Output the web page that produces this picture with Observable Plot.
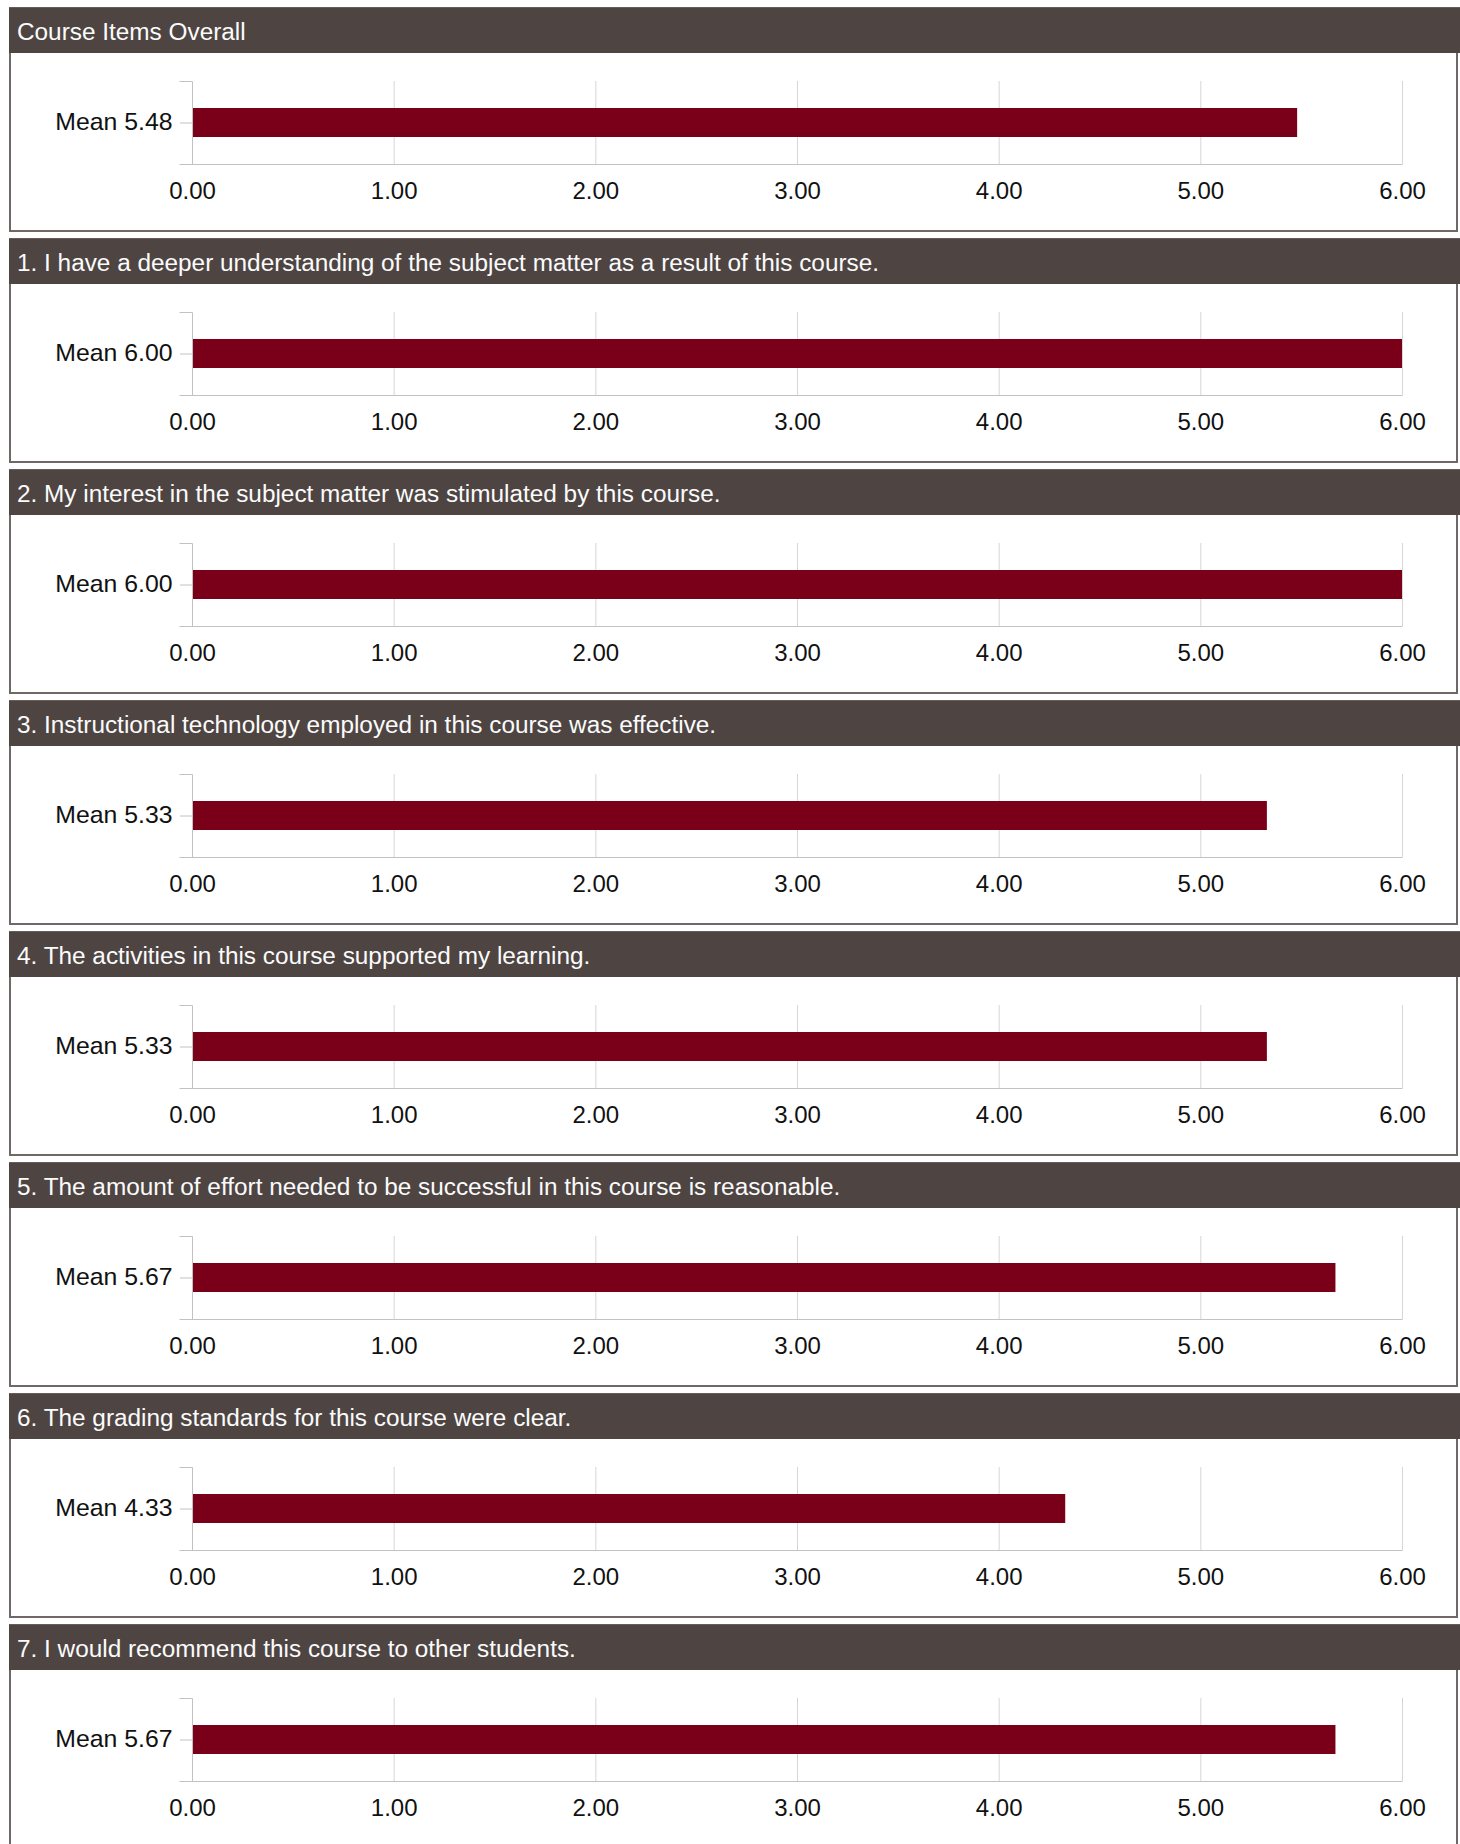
<!DOCTYPE html>
<html>
<head>
<meta charset="utf-8">
<script src="https://cdn.jsdelivr.net/npm/d3@7"></script>
<script src="https://cdn.jsdelivr.net/npm/@observablehq/plot@0.6"></script>
<style>
  html, body { margin: 0; padding: 0; background: #fff; }
  body { font-family: "Liberation Sans", Arial, Helvetica, sans-serif; }
  #root { position: relative; width: 1460px; height: 1844px; overflow: hidden; }
  .panel { position: absolute; left: 0; width: 1460px; height: 226px; }
  .head {
    position: absolute; left: 9px; top: 0; width: 1451px; height: 46px;
    background: #4e4543; color: #fbfbfb; font-size: 24.35px;
    box-sizing: border-box; padding: 2px 0 0 8px; line-height: 43px;
    white-space: nowrap; overflow: hidden; border-top: 1px solid #655d5b;
  }
  .box {
    position: absolute; left: 9px; top: 46px; width: 1449px; height: 179px;
    box-sizing: border-box; border: 2px solid #6e6866; border-top: none;
    z-index: 2; pointer-events: none;
  }
  .chart { position: absolute; left: 0; top: 46px; z-index: 1; }
  .chart svg { display: block; }
</style>
</head>
<body>
<div id="root"></div>
<script>
// ---- data ----
const titles = [
  "Course Items Overall",
  "1. I have a deeper understanding of the subject matter as a result of this course.",
  "2. My interest in the subject matter was stimulated by this course.",
  "3. Instructional technology employed in this course was effective.",
  "4. The activities in this course supported my learning.",
  "5. The amount of effort needed to be successful in this course is reasonable.",
  "6. The grading standards for this course were clear.",
  "7. I would recommend this course to other students."
];
const means = [5.48, 6.00, 6.00, 5.33, 5.33, 5.67, 4.33, 5.67];
const xTicks = [0, 1, 2, 3, 4, 5, 6];

// ---- style ----
const barColor = "#7a001a";
const gridColor = "#d6d6d6";
const axisColor = "#c2c2c2";
const panelPitch = 231;
const firstTop = 7;

const fmt = d => d.toFixed(2);

// axis bracket (y-axis line with end ticks, and x baseline)
function bracket(index, scales, values, dimensions) {
  const {width, height, marginLeft, marginRight, marginTop, marginBottom} = dimensions;
  const x0 = Math.round(scales.x(0)) + 0.5;
  const yT = marginTop + 0.5, yB = height - marginBottom + 0.5;
  const xR = Math.round(scales.x(6)) + 0.5;
  const g = d3.create("svg:g").attr("fill", "none").attr("stroke", axisColor);
  g.append("path").attr("d", `M${x0 - 13},${yT}H${x0}V${yB}`);
  g.append("path").attr("d", `M${x0 - 13},${yB}H${xR}`);
  return g.node();
}

const root = document.getElementById("root");

titles.forEach((title, i) => {
  const panel = document.createElement("div");
  panel.className = "panel";
  panel.style.top = (firstTop + panelPitch * i) + "px";

  const head = document.createElement("div");
  head.className = "head";
  head.textContent = title;
  panel.appendChild(head);

  const row = {label: "Mean " + fmt(means[i]), value: means[i]};

  const chart = Plot.plot({
    width: 1460,
    height: 176,
    marginLeft: 192,
    marginRight: 58,
    marginTop: 28,
    marginBottom: 65,
    style: {background: "transparent", fontFamily: '"Liberation Sans", Arial, sans-serif', fontSize: "24px", color: "#000"},
    x: {domain: [0, 6], label: null},
    y: {domain: [row.label], label: null, padding: 0},
    marks: [
      Plot.gridX(xTicks.filter(d => d > 0), {stroke: gridColor, strokeOpacity: 1}),
      Plot.barX([row], {x: "value", y: "label", fill: barColor, insetTop: 27, insetBottom: 27}),
      bracket,
      Plot.axisX(xTicks, {tickSize: 0, tickPadding: 17, tickFormat: fmt, fill: "#111", fontSize: 24}),
      Plot.axisY({tickSize: 12, tickPadding: 8, stroke: axisColor, fill: "#111", fontSize: 24.8, textStroke: "none"}),
    ]
  });
  // nudge y tick label up slightly to match reference
  chart.querySelectorAll('[aria-label="y-axis tick label"] text').forEach(t => {
    t.setAttribute("dy", "-1");
  });
  const wrap = document.createElement("div");
  wrap.className = "chart";
  wrap.appendChild(chart);
  panel.appendChild(wrap);

  const box = document.createElement("div");
  box.className = "box";
  panel.appendChild(box);

  root.appendChild(panel);
});
</script>
</body>
</html>
